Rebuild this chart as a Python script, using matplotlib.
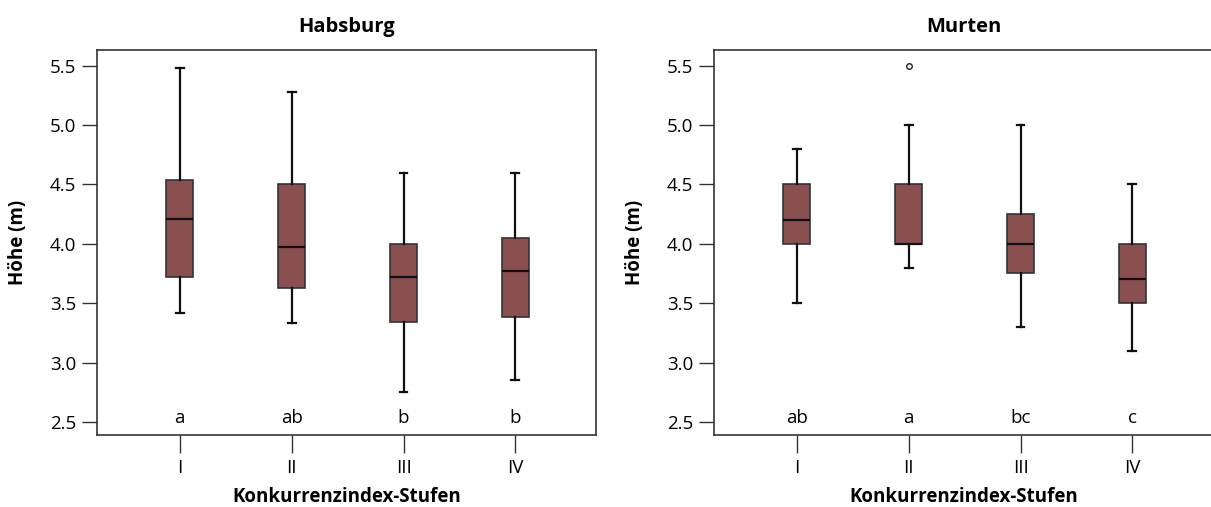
import matplotlib.pyplot as plt

plt.rcParams['font.family'] = ['Open Sans', 'DejaVu Sans']

stufen = ["I", "II", "III", "IV"]

# Habsburg: whisker low, Q1, median, Q3, whisker high
hab_low = [3.42, 3.33, 2.75, 2.85]
hab_q1 = [3.72, 3.63, 3.34, 3.38]
hab_med = [4.21, 3.97, 3.72, 3.77]
hab_q3 = [4.54, 4.50, 4.00, 4.05]
hab_high = [5.48, 5.28, 4.60, 4.60]
hab_letters = ["a", "ab", "b", "b"]
hab_fliers = [[], [], [], []]

# Murten
mur_low = [3.50, 3.80, 3.30, 3.10]
mur_q1 = [4.00, 4.00, 3.75, 3.50]
mur_med = [4.20, 4.00, 4.00, 3.70]
mur_q3 = [4.50, 4.50, 4.25, 4.00]
mur_high = [4.80, 5.00, 5.00, 4.50]
mur_letters = ["ab", "a", "bc", "c"]
mur_fliers = [[], [5.5], [], []]

yticks = [2.5, 3.0, 3.5, 4.0, 4.5, 5.0, 5.5]

box_color = "#8a4f51"


def draw_panel(ax, title, low, q1, med, q3, high, fliers, letters):
    stats = []
    for i in range(len(stufen)):
        stats.append(dict(whislo=low[i], q1=q1[i], med=med[i], q3=q3[i],
                          whishi=high[i], fliers=fliers[i]))
    ax.bxp(stats, positions=[1, 2, 3, 4], widths=0.24, patch_artist=True,
           boxprops=dict(facecolor=box_color, edgecolor="#333333", linewidth=1.2),
           medianprops=dict(color="#111111", linewidth=1.6),
           whiskerprops=dict(color="#111111", linewidth=1.6),
           capprops=dict(color="#111111", linewidth=1.6),
           capwidths=0.07,
           flierprops=dict(marker="o", markersize=4, markerfacecolor="white",
                           markeredgecolor="#222222", markeredgewidth=1.0))
    for i, lab in enumerate(letters):
        ax.text(i + 1, 2.53, lab, ha="center", va="center", fontsize=13.5)
    ax.set_xlim(0.26, 4.72)
    ax.set_ylim(2.39, 5.63)
    ax.set_yticks(yticks)
    ax.set_yticklabels(["%.1f" % v for v in yticks])
    ax.set_xticks([1, 2, 3, 4])
    ax.set_xticklabels(stufen)
    ax.tick_params(axis="y", length=11, width=1, color="#333333", labelsize=13.5, pad=4)
    ax.tick_params(axis="x", length=13, width=1, color="#333333", labelsize=13.5, pad=4)
    for s in ax.spines.values():
        s.set_color("#333333")
        s.set_linewidth(1.2)
    ax.set_title(title, fontsize=14.5, fontweight="bold", pad=13)
    ax.set_xlabel("Konkurrenzindex-Stufen", fontsize=13.5, fontweight="bold", va="center")
    ax.xaxis.set_label_coords(0.5, -0.16)
    ax.set_ylabel("Höhe (m)", fontsize=13.5, fontweight="bold", va="center")
    ax.yaxis.set_label_coords(-0.158, 0.5)


fig = plt.figure(figsize=(12.11, 5.07), dpi=100)
ax1 = fig.add_axes([0.0801, 0.142, 0.412, 0.759])
ax2 = fig.add_axes([0.5896, 0.142, 0.412, 0.759])

draw_panel(ax1, "Habsburg", hab_low, hab_q1, hab_med, hab_q3, hab_high, hab_fliers, hab_letters)
draw_panel(ax2, "Murten", mur_low, mur_q1, mur_med, mur_q3, mur_high, mur_fliers, mur_letters)

fig.savefig("out.png", dpi=100)
